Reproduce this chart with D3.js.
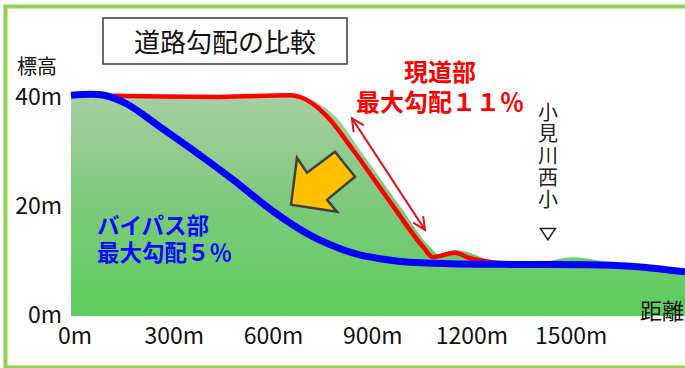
<!DOCTYPE html>
<html><head><meta charset="utf-8">
<script src="https://cdn.jsdelivr.net/npm/d3@7"></script>
<style>
html,body{margin:0;padding:0;background:#fff;}
svg{display:block;}
text{font-family:"Noto Sans CJK JP","Noto Sans",sans-serif;}
text.lbl{font-family:"DejaVu Sans","Noto Sans CJK JP",sans-serif;}
</style></head>
<body>
<svg id="c" width="685" height="368"></svg>
<script>
// ---- data (distance m, elevation m) ----
const titleText = "道路勾配の比較";
const yTicks = [0, 20, 40];
const xTicks = [0, 300, 600, 900, 1200, 1500];
const groundDist = [0, 683, 728, 801, 873, 994, 1085, 1115, 1160, 1200, 1266, 1396, 1517, 1629, 1750, 1856];
const groundElev = [40.2, 40.3, 39.6, 36.5, 30.5, 20.2, 12.7, 11.2, 12.1, 11.7, 10.3, 9.7, 10.8, 9.9, 9.2, 8.4];
const currentDist = [127, 450, 662, 707, 746, 783, 852, 973, 1064, 1094, 1160, 1206, 1266, 1357, 1432];
const currentElev = [40.4, 40.2, 40.5, 39.8, 38.2, 36.0, 30.5, 20.2, 12.7, 10.8, 11.6, 10.6, 9.9, 9.5, 9.36];
const bypassDist = [0, 100, 169, 269, 390, 490, 589, 671, 746, 816, 873, 934, 1015, 1145, 1357, 1599, 1720, 1856];
const bypassElev = [40.5, 40.5, 38.9, 34.7, 29.5, 25.0, 20.2, 16.7, 14.1, 12.3, 11.2, 10.5, 9.9, 9.6, 9.45, 9.36, 9.0, 8.1];
const currentLabel = ["現道部", "最大勾配１１％"];
const bypassLabel = ["バイパス部", "最大勾配５％"];
const slopeSpan = [[849, 36.3], [1070, 15.8]];   // double arrow along current road slope
const schoolName = "小見川西小";
const schoolDist = 1440;
const arrowTip = [665, 20.4];                    // orange arrow tip (distance, elevation)

const svg = d3.select("#c");
const x = d3.scaleLinear().domain([0, 1856]).range([71, 685]);
const y = d3.scaleLinear().domain([0, 40]).range([316, 98]);

// frame
svg.append("rect").attr("x", 5.5).attr("y", 6.5).attr("width", 720).attr("height", 361)
  .attr("fill", "none").attr("stroke", "#92d050").attr("stroke-width", 4);

// gradient
const defs = svg.append("defs");
const g = defs.append("linearGradient").attr("id", "gnd").attr("x1", 0).attr("x2", 0).attr("y1", 0).attr("y2", 1);
g.append("stop").attr("offset", "0%").attr("stop-color", "#a6cfa2");
g.append("stop").attr("offset", "45%").attr("stop-color", "#80c97e");
g.append("stop").attr("offset", "100%").attr("stop-color", "#5ccd5c");

const ground = groundDist.map((d, i) => [d, groundElev[i]]);
const area = d3.area().x(d => x(d[0])).y0(y(0)).y1(d => y(d[1])).curve(d3.curveMonotoneX);
svg.append("path").datum(ground).attr("d", area).attr("fill", "url(#gnd)");

// title box
svg.append("rect").attr("x", 103).attr("y", 18).attr("width", 244).attr("height", 46)
  .attr("fill", "#fff").attr("stroke", "#3a3a3a").attr("stroke-width", 1.5);
svg.append("text").attr("x", 225).attr("y", 52).attr("text-anchor", "middle")
  .attr("font-size", 26).attr("fill", "#111").text(titleText);

// axis labels
svg.append("text").attr("x", 17).attr("y", 74).attr("font-size", 20).attr("fill", "#111").text("標高");
svg.append("text").attr("x", 684).attr("y", 319).attr("text-anchor", "end").attr("font-size", 22).attr("fill", "#111").text("距離");

svg.selectAll(".yt").data(yTicks).join("text")
  .attr("x", 62).attr("y", d => y(d) + 7).attr("text-anchor", "end")
  .attr("font-size", 23).attr("fill", "#111").text(d => d + "m");
svg.selectAll(".xt").data(xTicks).join("text")
  .attr("x", d => x(d) + 4).attr("y", 344).attr("text-anchor", "middle")
  .attr("font-size", 23).attr("fill", "#111").text(d => d + "m");

// lines
const bypass = bypassDist.map((d, i) => [d, bypassElev[i]]);
const current = currentDist.map((d, i) => [d, currentElev[i]]);
const lineM = d3.line().x(d => x(d[0])).y(d => y(d[1])).curve(d3.curveMonotoneX);
const lineC = d3.line().x(d => x(d[0])).y(d => y(d[1])).curve(d3.curveCatmullRom.alpha(0.5));
svg.append("path").datum(current).attr("d", lineM).attr("fill", "none")
  .attr("stroke", "#ff0000").attr("stroke-width", 4.5).attr("stroke-linecap", "round").attr("stroke-linejoin", "round");
svg.append("path").datum(bypass).attr("d", lineC).attr("fill", "none")
  .attr("stroke", "#0000ff").attr("stroke-width", 7).attr("stroke-linejoin", "round");

// double arrow
const [p1, p2] = slopeSpan.map(p => [x(p[0]), y(p[1])]);
const ac = "#e0141e";
svg.append("line").attr("x1", p1[0]).attr("y1", p1[1]).attr("x2", p2[0]).attr("y2", p2[1])
  .attr("stroke", ac).attr("stroke-width", 2);
function head(tip, from) {
  const ang = Math.atan2(from[1] - tip[1], from[0] - tip[0]);
  const L = 14, a = 0.45;
  const pts = [[tip[0] + L * Math.cos(ang - a), tip[1] + L * Math.sin(ang - a)], tip,
               [tip[0] + L * Math.cos(ang + a), tip[1] + L * Math.sin(ang + a)]];
  svg.append("path").attr("d", d3.line()(pts)).attr("fill", "none").attr("stroke", ac)
    .attr("stroke-width", 2).attr("stroke-linejoin", "miter");
}
head(p1, p2); head(p2, p1);

// orange arrow
const tip = [x(arrowTip[0]), y(arrowTip[1])];
const shape = [[0, 0], [6, -47], [16, -32], [44, -53], [64, -28], [36, -5], [46, 7]];
svg.append("path").attr("d", d3.line()(shape.map(p => [tip[0] + p[0], tip[1] + p[1]])) + "Z")
  .attr("fill", "#ffc000").attr("stroke", "#404040").attr("stroke-width", 2.5).attr("stroke-linejoin", "miter");

// current road label (two lines)
svg.selectAll(".cl").data(currentLabel).join("text").attr("class", "lbl")
  .attr("x", 440).attr("y", (d, i) => 81 + i * 30).attr("text-anchor", "middle")
  .attr("font-size", 24).attr("font-weight", "bold").attr("fill", "#ff0000").text(d => d);
// bypass label
svg.selectAll(".bl").data(bypassLabel).join("text").attr("class", "lbl")
  .attr("x", 97).attr("y", (d, i) => 234 + i * 27)
  .attr("font-size", 22.5).attr("font-weight", "bold").attr("fill", "#0a0aff").text(d => d);

// school (vertical text)
const sx = x(schoolDist) + 0.5;
svg.append("text").attr("x", sx).attr("y", 102)
  .attr("writing-mode", "vertical-rl").style("writing-mode", "vertical-rl")
  .attr("letter-spacing", 1.8)
  .attr("font-size", 20).attr("fill", "#222").text(schoolName);
svg.append("path").attr("d", `M${sx - 7.5},228.5L${sx + 7.5},228.5L${sx},240Z`)
  .attr("fill", "none").attr("stroke", "#222").attr("stroke-width", 1.5).attr("stroke-linejoin", "miter");
</script>
</body></html>
